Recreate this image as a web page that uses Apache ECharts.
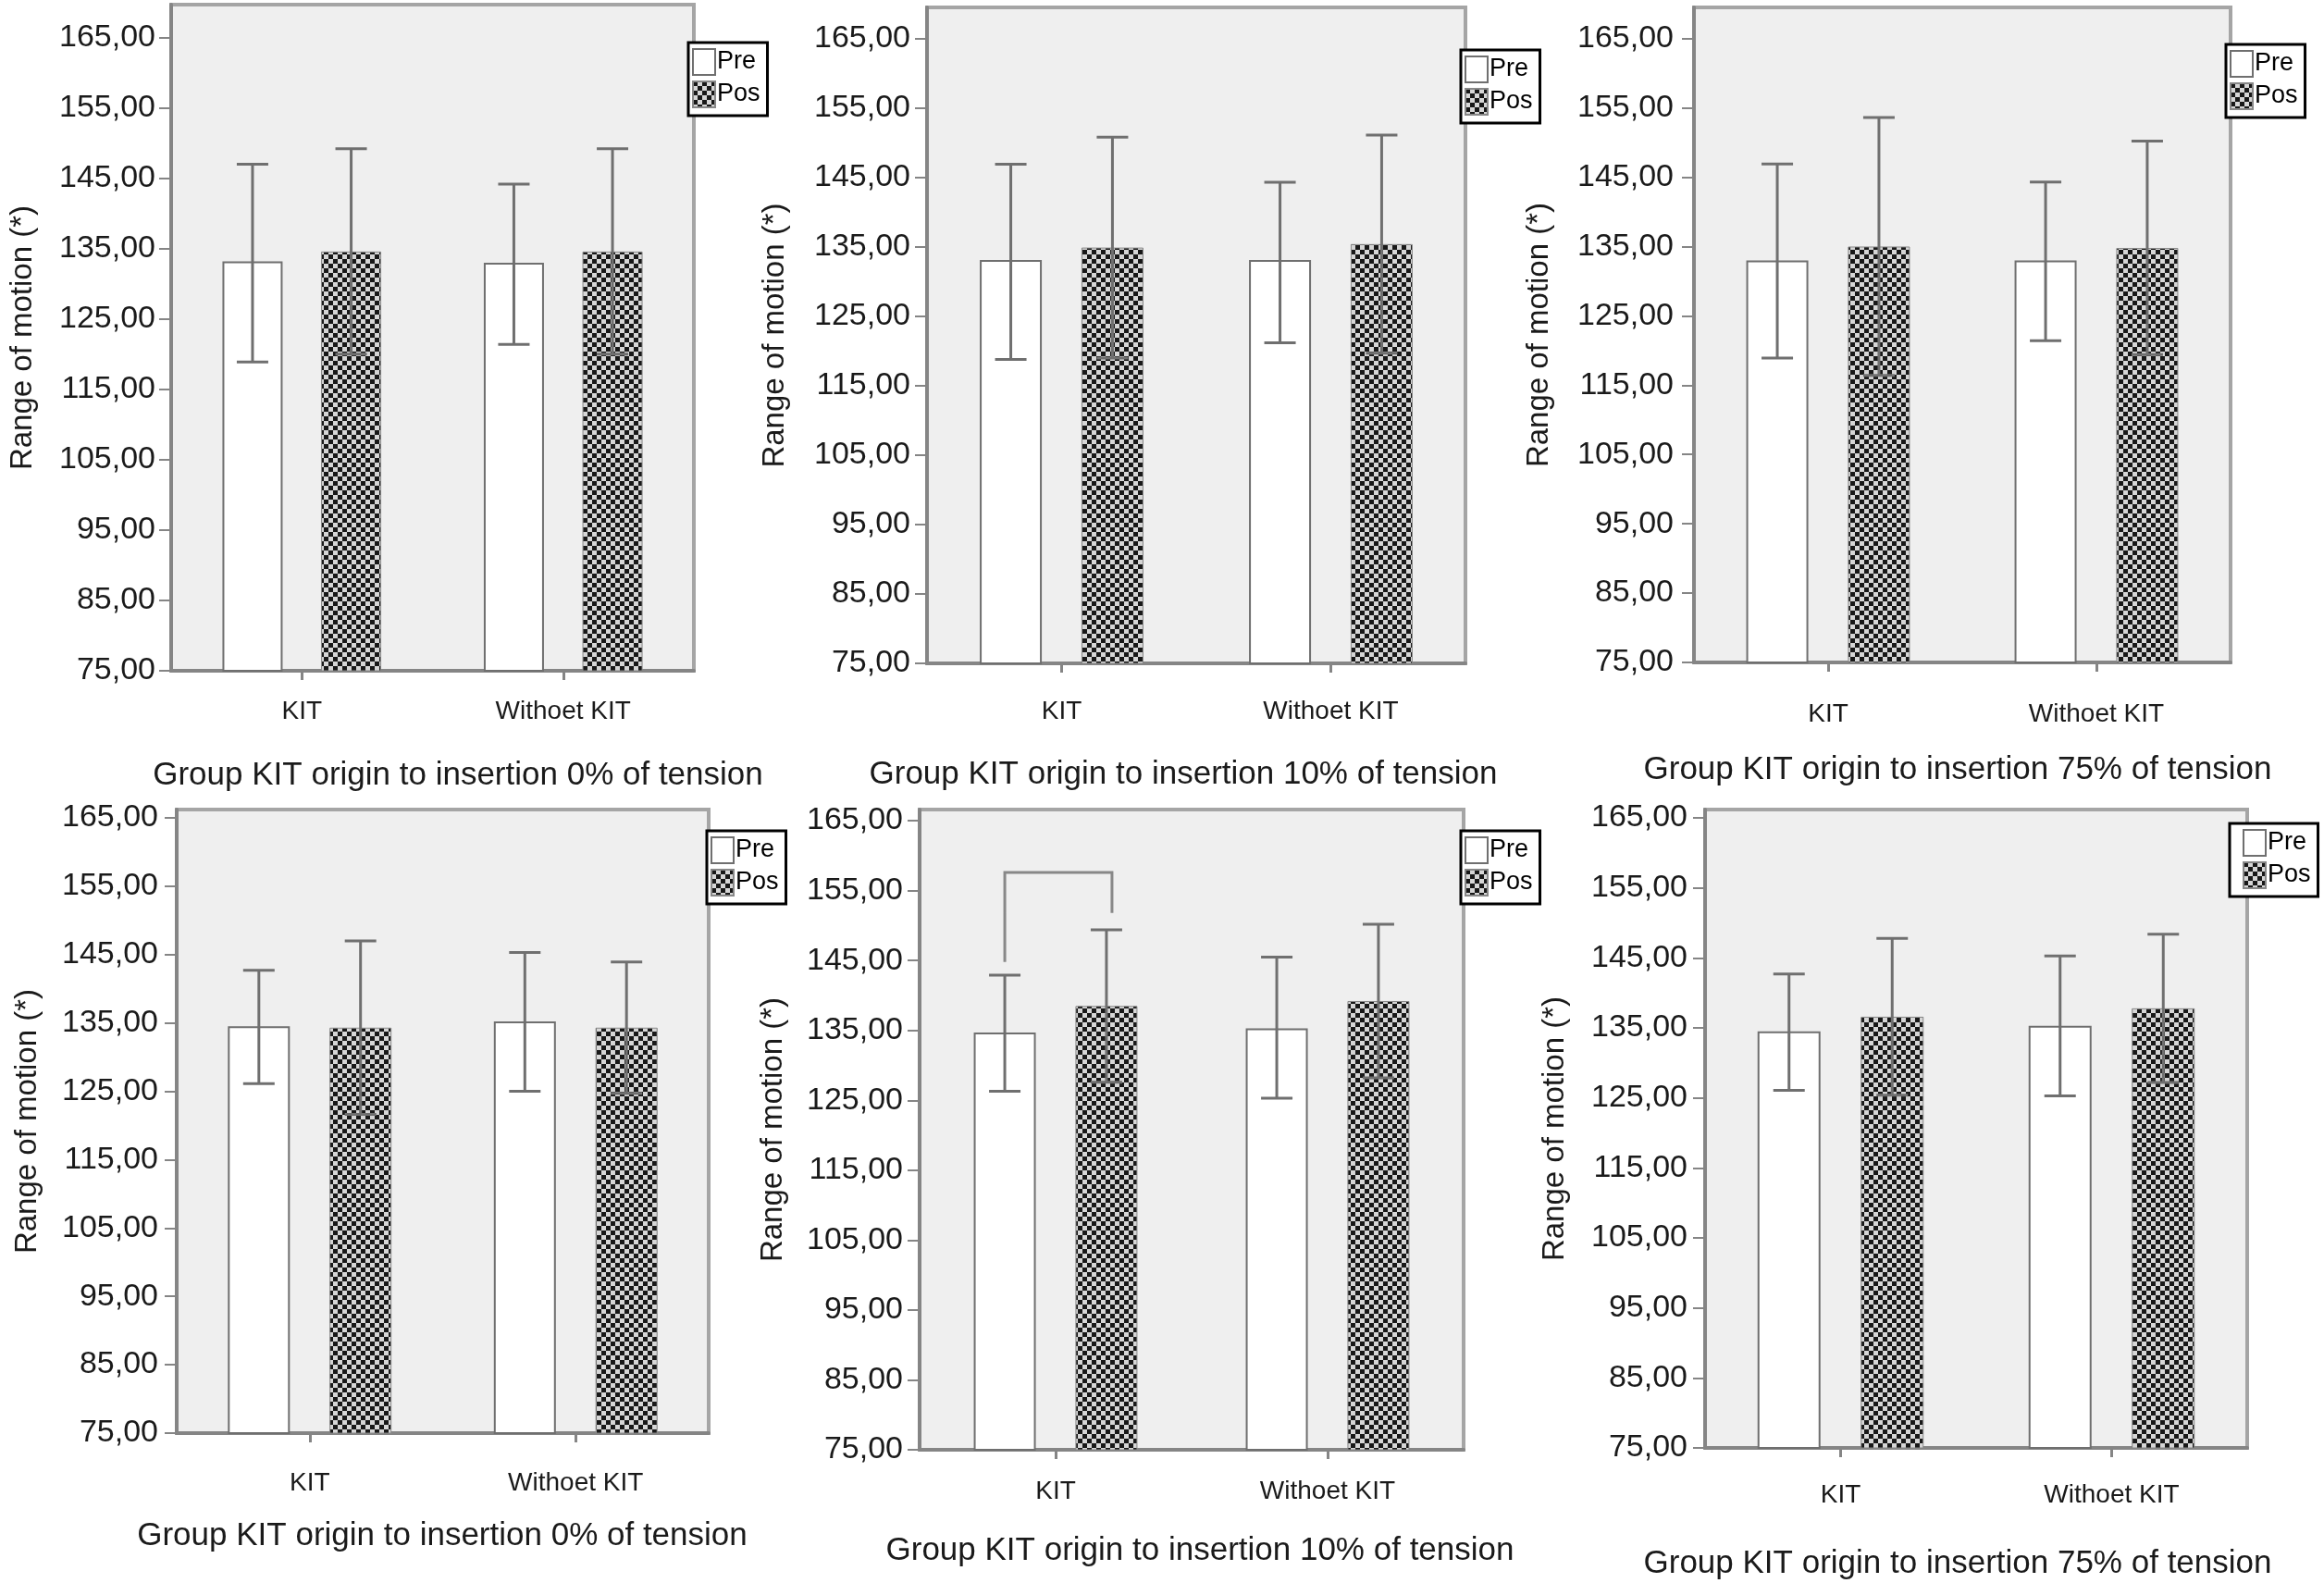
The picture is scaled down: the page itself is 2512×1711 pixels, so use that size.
<!DOCTYPE html>
<html>
<head>
<meta charset="utf-8">
<script src="https://cdn.jsdelivr.net/npm/echarts@6/dist/echarts.min.js"></script>
<style>
html,body{margin:0;padding:0;background:#fff;}
#chart{width:2512px;height:1711px;}
</style>
</head>
<body>
<div id="chart"></div>
<script>
// ---------- DATA ----------
const categories = ['KIT', 'Withoet KIT'];
const seriesNames = ['Pre', 'Pos'];
const panelTitles = [
  'Group KIT origin to insertion 0% of tension',
  'Group KIT origin to insertion 10% of tension',
  'Group KIT origin to insertion 75% of tension',
  'Group KIT origin to insertion 0% of tension',
  'Group KIT origin to insertion 10% of tension',
  'Group KIT origin to insertion 75% of tension'
];
const yAxisTitle = 'Range of motion (*)';
const yTicks = [75, 85, 95, 105, 115, 125, 135, 145, 155, 165];

const preMean = [[133.2, 133.0], [133.1, 133.1], [133.0, 133.0], [134.5, 135.2], [134.7, 135.3], [134.5, 135.3]];
const preLow  = [[118.9, 121.4], [118.8, 121.2], [118.9, 121.4], [126.1, 125.0], [126.3, 125.3], [126.1, 125.3]];
const preHigh = [[147.0, 144.2], [146.9, 144.3], [146.9, 144.3], [142.7, 145.3], [142.9, 145.5], [142.7, 145.3]];
const posMean = [[134.6, 134.6], [134.9, 135.4], [135.0, 134.8], [134.3, 134.3], [138.5, 139.2], [136.6, 137.8]];
const posLow  = [[120.0, 120.0], [119.0, 119.7], [116.4, 119.4], [121.6, 124.7], [127.6, 128.2], [125.4, 127.2]];
const posHigh = [[149.2, 149.2], [150.8, 151.1], [153.6, 150.2], [147.0, 143.9], [149.4, 150.2], [147.8, 148.4]];
// significance bracket (panel 5, KIT): [left leg bottom, top, right leg bottom]
const bracketPanel = 4;
const bracketValues = [144.8, 157.6, 151.8];

// ---------- LAYOUT (pixels, style only) ----------
const layout = [
  {left: 185,  top: 5,   width: 565, height: 720, yMax: 169.7, labM: 17, catM: 30, nameGap: 144, barW: 65, legL: 744,  legT: 46,  legPL: 4,  tx: 495,  ty: 838},
  {left: 1002, top: 8,   width: 582, height: 709, yMax: 169.5, labM: 18, catM: 38, nameGap: 148, barW: 67, legL: 1579, legT: 54,  legPL: 4,  tx: 1279, ty: 837},
  {left: 1831, top: 8,   width: 580, height: 708, yMax: 169.5, labM: 22, catM: 42, nameGap: 151, barW: 67, legL: 2406, legT: 48,  legPL: 4,  tx: 2116, ty: 832},
  {left: 191,  top: 875, width: 575, height: 674, yMax: 166.2, labM: 20, catM: 40, nameGap: 145, barW: 67, legL: 764,  legT: 898, legPL: 4,  tx: 478,  ty: 1660},
  {left: 994,  top: 875, width: 588, height: 692, yMax: 166.6, labM: 18, catM: 31, nameGap: 142, barW: 67, legL: 1579, legT: 898, legPL: 4,  tx: 1297, ty: 1676},
  {left: 1843, top: 875, width: 586, height: 690, yMax: 166.2, labM: 19, catM: 37, nameGap: 146, barW: 68, legL: 2410, legT: 890, legPL: 14, tx: 2116, ty: 1690}
];
const BAR_GAP = 0.64;
const FONT = '"Liberation Sans", Arial, Helvetica, sans-serif';
const TEXT = '#1a1a1a';
const AXIS = '#858585';
const ERR = '#6f6f6f';

// checker pattern
function makeChecker() {
  const c = document.createElement('canvas');
  const s = 5;
  c.width = s * 2; c.height = s * 2;
  const g = c.getContext('2d');
  g.fillStyle = '#d6d6d6'; g.fillRect(0, 0, s * 2, s * 2);
  g.fillStyle = '#181818';
  g.fillRect(0, 0, s, s); g.fillRect(s, s, s, s);
  return c;
}
const checker = {image: makeChecker(), repeat: 'repeat'};

const fmt = v => v.toFixed(2).replace('.', ',');

const chart = echarts.init(document.getElementById('chart'), null, {renderer: 'canvas', width: 2512, height: 1711});

const grids = [], xAxes = [], yAxes = [], series = [], legends = [], graphics = [];

layout.forEach((L, i) => {
  grids.push({
    left: L.left, top: L.top, width: L.width, height: L.height,
    show: true, backgroundColor: '#efefef', borderColor: '#a5a5a5', borderWidth: 4,
    containLabel: false, outerBoundsMode: 'none'
  });
  xAxes.push({
    type: 'category', gridIndex: i, data: categories,
    axisLine: {show: true, lineStyle: {color: AXIS, width: 4}},
    axisTick: {show: true, alignWithLabel: true, length: 10, lineStyle: {color: AXIS, width: 3}},
    axisLabel: {margin: L.catM, fontFamily: FONT, fontSize: 28, color: TEXT},
    splitLine: {show: false}
  });
  yAxes.push({
    type: 'value', gridIndex: i, min: 75, max: L.yMax,
    name: yAxisTitle, nameLocation: 'middle', nameGap: L.nameGap, nameRotate: 90,
    nameTextStyle: {fontFamily: FONT, fontSize: 33, color: TEXT},
    axisLine: {show: true, lineStyle: {color: AXIS, width: 4}},
    axisTick: {show: true, customValues: yTicks, length: 13, lineStyle: {color: AXIS, width: 2}},
    axisLabel: {customValues: yTicks, margin: L.labM, fontFamily: FONT, fontSize: 34, color: TEXT, formatter: fmt},
    splitLine: {show: false}
  });
  series.push({
    type: 'bar', name: seriesNames[0], xAxisIndex: i, yAxisIndex: i,
    data: preMean[i], barWidth: L.barW, barGap: (BAR_GAP * 100) + '%',
    itemStyle: {color: '#ffffff', borderColor: ERR, borderWidth: 2}, z: 2
  });
  series.push({
    type: 'bar', name: seriesNames[1], xAxisIndex: i, yAxisIndex: i,
    data: posMean[i], barWidth: L.barW,
    itemStyle: {color: checker, borderColor: '#888', borderWidth: 1}, z: 2
  });
  const half = L.barW * (1 + BAR_GAP) / 2;
  const errData = [];
  categories.forEach((c, k) => {
    errData.push([k, preLow[i][k], preHigh[i][k], -1]);
    errData.push([k, posLow[i][k], posHigh[i][k], 1]);
  });
  series.push({
    type: 'custom', xAxisIndex: i, yAxisIndex: i, z: 5, silent: true,
    data: errData,
    renderItem: (params, api) => {
      const lo = api.coord([api.value(0), api.value(1)]);
      const hi = api.coord([api.value(0), api.value(2)]);
      const x = lo[0] + api.value(3) * half;
      const cap = 17;
      const st = {stroke: ERR, lineWidth: 3, fill: null};
      return {type: 'group', children: [
        {type: 'line', shape: {x1: x, y1: lo[1], x2: x, y2: hi[1]}, style: st},
        {type: 'line', shape: {x1: x - cap, y1: lo[1], x2: x + cap, y2: lo[1]}, style: st},
        {type: 'line', shape: {x1: x - cap, y1: hi[1], x2: x + cap, y2: hi[1]}, style: st}
      ]};
    }
  });
  if (i === bracketPanel) {
    series.push({
      type: 'custom', xAxisIndex: i, yAxisIndex: i, z: 6, silent: true,
      data: [[0, bracketValues[0], bracketValues[1], bracketValues[2]]],
      renderItem: (params, api) => {
        const a = api.coord([api.value(0), api.value(1)]);
        const t = api.coord([api.value(0), api.value(2)]);
        const b = api.coord([api.value(0), api.value(3)]);
        const xl = a[0] - half, xr = a[0] + half + 6;
        return {type: 'polyline', shape: {points: [[xl, a[1]], [xl, t[1]], [xr, t[1]], [xr, b[1]]]},
          style: {stroke: '#888', lineWidth: 3, fill: null}};
      }
    });
  }
  legends.push({
    data: seriesNames, left: L.legL, top: L.legT, orient: 'vertical',
    backgroundColor: '#ffffff', borderColor: '#000', borderWidth: 3, borderRadius: 0,
    padding: [6, 8, 8, L.legPL], itemGap: 5, itemWidth: 24, itemHeight: 28,
    icon: 'rect', selectedMode: false,
    textStyle: {fontFamily: FONT, fontSize: 27, color: '#000', padding: [0, 0, 0, -3]}
  });
  graphics.push({
    type: 'text', x: L.tx, y: L.ty, z: 10,
    style: {text: panelTitles[i], font: '35px ' + FONT, fill: TEXT, textAlign: 'center', textVerticalAlign: 'middle'}
  });
});

chart.setOption({
  backgroundColor: '#ffffff',
  animation: false,
  grid: grids,
  xAxis: xAxes,
  yAxis: yAxes,
  legend: legends,
  series: series,
  graphic: graphics
});
</script>
</body>
</html>
